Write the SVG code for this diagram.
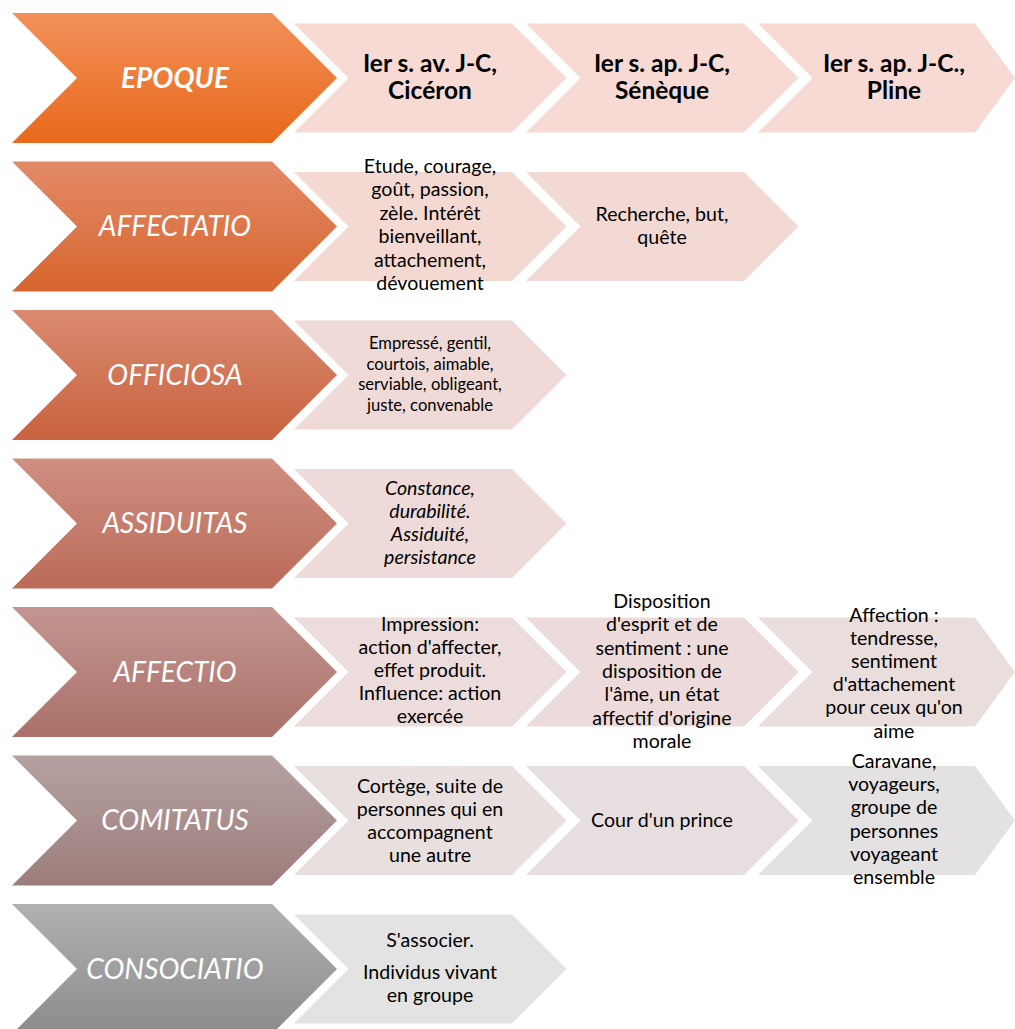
<svg xmlns="http://www.w3.org/2000/svg" width="1015" height="1029" viewBox="0 0 1015 1029">
<style>
.big{font-family:Lato,"Liberation Sans",sans-serif;font-style:italic;font-size:28px;fill:#ffffff;text-anchor:middle}
.hd{font-family:Lato,"Liberation Sans",sans-serif;font-weight:bold;font-size:24.5px;fill:#000;text-anchor:middle}
.t{font-family:Lato,"Liberation Sans",sans-serif;font-size:19.6px;fill:#000;text-anchor:middle}
.s{font-family:Lato,"Liberation Sans",sans-serif;font-size:16.6px;fill:#000;text-anchor:middle}
.i{font-style:italic}
</style>
<defs>
<linearGradient id="g1" x1="0" y1="0" x2="0" y2="1"><stop offset="0" stop-color="#F2905A"/><stop offset="1" stop-color="#E8691A"/></linearGradient>
<linearGradient id="g2" x1="0" y1="0" x2="0" y2="1"><stop offset="0" stop-color="#E38A68"/><stop offset="1" stop-color="#D7652E"/></linearGradient>
<linearGradient id="g3" x1="0" y1="0" x2="0" y2="1"><stop offset="0" stop-color="#DA8A70"/><stop offset="1" stop-color="#C8633F"/></linearGradient>
<linearGradient id="g4" x1="0" y1="0" x2="0" y2="1"><stop offset="0" stop-color="#CF8F82"/><stop offset="1" stop-color="#BB6B58"/></linearGradient>
<linearGradient id="g5" x1="0" y1="0" x2="0" y2="1"><stop offset="0" stop-color="#C39590"/><stop offset="1" stop-color="#AA7169"/></linearGradient>
<linearGradient id="g6" x1="0" y1="0" x2="0" y2="1"><stop offset="0" stop-color="#B5A1A1"/><stop offset="1" stop-color="#9C7D7B"/></linearGradient>
<linearGradient id="g7" x1="0" y1="0" x2="0" y2="1"><stop offset="0" stop-color="#B1B1B1"/><stop offset="1" stop-color="#8C8C8C"/></linearGradient>
</defs>

<!-- Row 1 -->
<g id="epoque">
<polygon points="12,13 272,13 337,78 272,143 12,143 77,78" fill="url(#g1)"/>
<text class="big" x="175" y="87.5" font-weight="bold" font-size="30px">EPOQUE</text>
</g>
<g id="r1c1">
<polygon points="294,23.5 512,23.5 566.5,78 512,132.5 294,132.5 348.5,78" fill="#F6DAD3"/>
<text class="hd" x="430" y="71.5">Ier s. av. J-C,</text>
<text class="hd" x="430" y="98.5">Cicéron</text>
</g>
<g id="r1c2">
<polygon points="526,23.5 744,23.5 798.5,78 744,132.5 526,132.5 580.5,78" fill="#F6DAD3"/>
<text class="hd" x="662" y="71.5">Ier s. ap. J-C,</text>
<text class="hd" x="662" y="98.5">Sénèque</text>
</g>
<g id="r1c3">
<polygon points="758,23.5 975,23.5 1015,78 975,132.5 758,132.5 812.5,78" fill="#F6DAD3"/>
<text class="hd" x="894" y="71.5">Ier s. ap. J-C.,</text>
<text class="hd" x="894" y="98.5">Pline</text>
</g>

<!-- Row 2 -->
<g id="affectatio">
<polygon points="12,161.5 272,161.5 337,226.5 272,291.5 12,291.5 77,226.5" fill="url(#g2)"/>
<text class="big" x="175" y="236">AFFECTATIO</text>
</g>
<g id="r2c1">
<polygon points="294,172 512,172 566.5,226.5 512,281 294,281 348.5,226.5" fill="#F4D9D3"/>
<text class="t" x="430" y="173">Etude, courage,</text>
<text class="t" x="430" y="196.4">goût, passion,</text>
<text class="t" x="430" y="219.8">zèle. Intérêt</text>
<text class="t" x="430" y="243.2">bienveillant,</text>
<text class="t" x="430" y="266.6">attachement,</text>
<text class="t" x="430" y="290">dévouement</text>
</g>
<g id="r2c2">
<polygon points="526,172 744,172 798.5,226.5 744,281 526,281 580.5,226.5" fill="#F3D9D4"/>
<text class="t" x="662" y="221">Recherche, but,</text>
<text class="t" x="662" y="244.4">quête</text>
</g>

<!-- Row 3 -->
<g id="officiosa">
<polygon points="12,310 272,310 337,375 272,440 12,440 77,375" fill="url(#g3)"/>
<text class="big" x="175" y="385">OFFICIOSA</text>
</g>
<g id="r3c1">
<polygon points="294,320.5 512,320.5 566.5,375 512,429.5 294,429.5 348.5,375" fill="#F0DAD7"/>
<text class="s" x="430" y="349">Empressé, gentil,</text>
<text class="s" x="430" y="369.7">courtois, aimable,</text>
<text class="s" x="430" y="390.4">serviable, obligeant,</text>
<text class="s" x="430" y="411">juste, convenable</text>
</g>

<!-- Row 4 -->
<g id="assiduitas">
<polygon points="12,458.5 272,458.5 337,523.5 272,588.5 12,588.5 77,523.5" fill="url(#g4)"/>
<text class="big" x="175" y="533">ASSIDUITAS</text>
</g>
<g id="r4c1">
<polygon points="294,469 512,469 566.5,523.5 512,578 294,578 348.5,523.5" fill="#EEDBD9"/>
<text class="t i" x="430" y="495">Constance,</text>
<text class="t i" x="430" y="518">durabilité.</text>
<text class="t i" x="430" y="541">Assiduité,</text>
<text class="t i" x="430" y="564">persistance</text>
</g>

<!-- Row 5 -->
<g id="affectio">
<polygon points="12,607 272,607 337,672 272,737 12,737 77,672" fill="url(#g5)"/>
<text class="big" x="175" y="681.5">AFFECTIO</text>
</g>
<g id="r5c1">
<polygon points="294,617.5 512,617.5 566.5,672 512,726.5 294,726.5 348.5,672" fill="#ECDCDB"/>
<text class="t" x="430" y="631">Impression:</text>
<text class="t" x="430" y="654">action d'affecter,</text>
<text class="t" x="430" y="677">effet produit.</text>
<text class="t" x="430" y="700">Influence: action</text>
<text class="t" x="430" y="723">exercée</text>
</g>
<g id="r5c2">
<polygon points="526,617.5 744,617.5 798.5,672 744,726.5 526,726.5 580.5,672" fill="#ECDBDA"/>
<text class="t" x="662" y="608">Disposition</text>
<text class="t" x="662" y="631.3">d'esprit et de</text>
<text class="t" x="662" y="654.6">sentiment : une</text>
<text class="t" x="662" y="677.9">disposition de</text>
<text class="t" x="662" y="701.2">l'âme, un état</text>
<text class="t" x="662" y="724.5">affectif d'origine</text>
<text class="t" x="662" y="747.8">morale</text>
</g>
<g id="r5c3">
<polygon points="758,617.5 975,617.5 1015,672 975,726.5 758,726.5 812.5,672" fill="#EADEDD"/>
<text class="t" x="894" y="621.5">Affection :</text>
<text class="t" x="894" y="644.7">tendresse,</text>
<text class="t" x="894" y="667.9">sentiment</text>
<text class="t" x="894" y="691.1">d'attachement</text>
<text class="t" x="894" y="714.3">pour ceux qu'on</text>
<text class="t" x="894" y="737.5">aime</text>
</g>

<!-- Row 6 -->
<g id="comitatus">
<polygon points="12,755.5 272,755.5 337,820.5 272,885.5 12,885.5 77,820.5" fill="url(#g6)"/>
<text class="big" x="175" y="830">COMITATUS</text>
</g>
<g id="r6c1">
<polygon points="294,766 512,766 566.5,820.5 512,875 294,875 348.5,820.5" fill="#E8DFDF"/>
<text class="t" x="430" y="793">Cortège, suite de</text>
<text class="t" x="430" y="816">personnes qui en</text>
<text class="t" x="430" y="839">accompagnent</text>
<text class="t" x="430" y="862">une autre</text>
</g>
<g id="r6c2">
<polygon points="526,766 744,766 798.5,820.5 744,875 526,875 580.5,820.5" fill="#E7DFDF"/>
<text class="t" x="662" y="827">Cour d'un prince</text>
</g>
<g id="r6c3">
<polygon points="758,766 975,766 1015,820.5 975,875 758,875 812.5,820.5" fill="#E3E1E1"/>
<text class="t" x="894" y="768">Caravane,</text>
<text class="t" x="894" y="791.2">voyageurs,</text>
<text class="t" x="894" y="814.4">groupe de</text>
<text class="t" x="894" y="837.6">personnes</text>
<text class="t" x="894" y="860.8">voyageant</text>
<text class="t" x="894" y="884">ensemble</text>
</g>

<!-- Row 7 -->
<g id="consociatio">
<polygon points="12,904 272,904 337,969 272,1034 12,1034 77,969" fill="url(#g7)"/>
<text class="big" x="175" y="978.5">CONSOCIATIO</text>
</g>
<g id="r7c1">
<polygon points="294,914.5 512,914.5 566.5,969 512,1023.5 294,1023.5 348.5,969" fill="#E3E3E3"/>
<text class="t" x="430" y="947">S'associer.</text>
<text class="t" x="430" y="978.5">Individus vivant</text>
<text class="t" x="430" y="1002">en groupe</text>
</g>

<g id="connectors"></g>
</svg>
